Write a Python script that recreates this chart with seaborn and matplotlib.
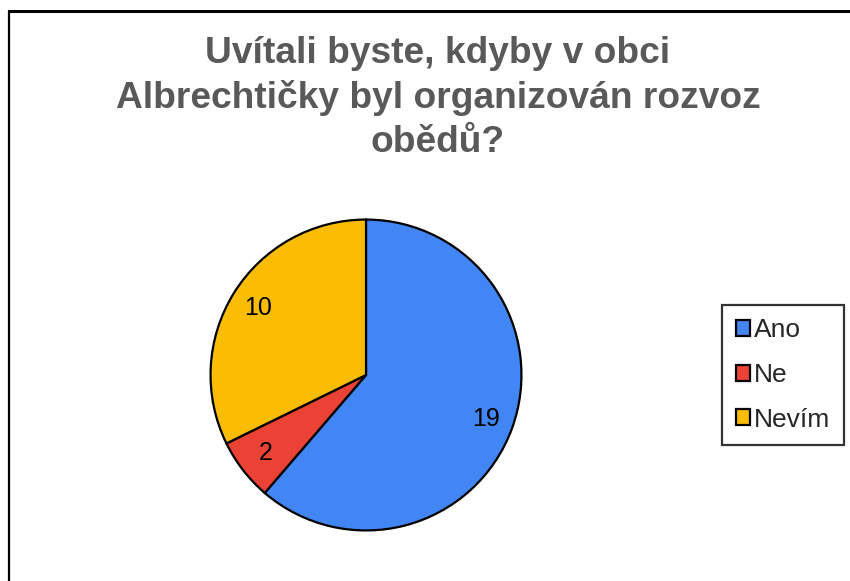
import matplotlib
matplotlib.use("Agg")
import matplotlib.pyplot as plt
import seaborn as sns
from matplotlib.lines import Line2D

categories = ["Ano", "Ne", "Nevím"]
values = [19, 2, 10]
colors = ["#4285F4", "#EA4335", "#FBBC04"]
title = "Uvítali byste, kdyby v obci\nAlbrechtičky byl organizován rozvoz\nobědů?"

sns.set_theme(style="white")
plt.rcParams['font.family'] = ['Liberation Sans', 'DejaVu Sans']

W, H = 850, 581
fig = plt.figure(figsize=(W / 100, H / 100), dpi=100)
fig.patch.set_facecolor("white")

cx, cy, r = 366, 375, 157
ax = fig.add_axes([(cx - r) / W, (H - cy - r) / H, 2 * r / W, 2 * r / H])

wedges, texts, autotexts = ax.pie(
    values, colors=colors, startangle=90, counterclock=False,
    wedgeprops=dict(edgecolor="black", linewidth=1.6),
    autopct=lambda p: f"{round(p * sum(values) / 100):d}",
    pctdistance=0.82, labeldistance=None,
    textprops=dict(fontsize=18, color="black"))
ax.set_aspect("equal")
ax.set_xlim(-1.01, 1.01)
ax.set_ylim(-1.01, 1.01)

fig.text(438 / W, 1 - 98 / H, title, ha="center", va="center",
         fontsize=26.7, fontweight="bold", color="#595959", linespacing=1.33)

leg = fig.legend(wedges, categories, loc="center", bbox_to_anchor=(783 / W, 1 - 375 / H),
                 fontsize=19, frameon=True, fancybox=False, edgecolor="black",
                 handlelength=0.55, handleheight=0.55, handletextpad=0.15,
                 labelspacing=0.78, borderpad=0.5, borderaxespad=0)
leg.get_frame().set_linewidth(1.6)

fig.add_artist(Line2D([9 / W, 1.0], [1 - 10.5 / H, 1 - 10.5 / H], color="black", linewidth=2.2,
                      transform=fig.transFigure))
fig.add_artist(Line2D([9 / W, 9 / W], [1 - 10.5 / H, 0], color="black", linewidth=1.6,
                      transform=fig.transFigure))

fig.savefig("out.png", dpi=100, facecolor="white")
